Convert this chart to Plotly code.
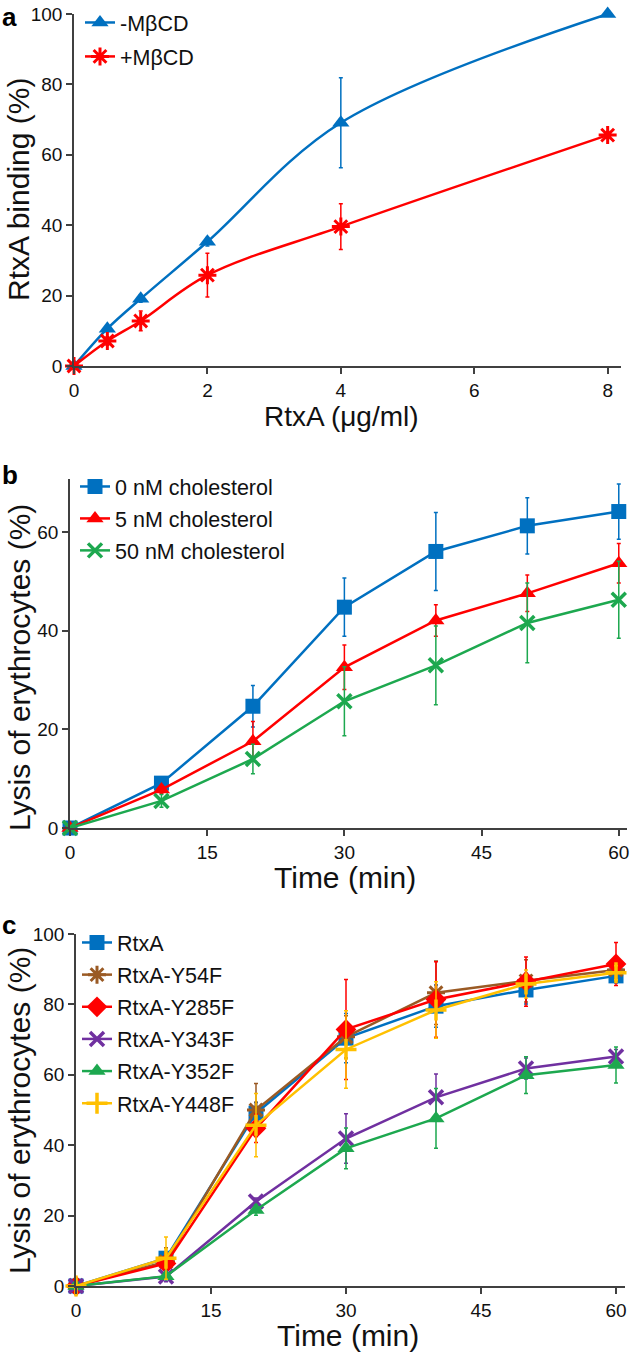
import plotly.graph_objects as go

FONT = "Arial, 'Liberation Sans', Helvetica, sans-serif"
W, H = 631, 1352

# ---------------- data ----------------
# panel a
a_x = [0, 0.5, 1, 2, 4, 8]
a_minus = [0, 10.6, 19.1, 35.3, 69.1, 100]
a_minus_err = [0, 0.8, 1.0, 1.2, 12.8, 0.5]
a_plus = [0, 7.1, 12.8, 25.8, 39.6, 65.6]
a_plus_err = [0.5, 1.2, 2.8, 6.2, 6.5, 1.0]
a_names = ["-MβCD", "+MβCD"]
a_xticks = [0, 2, 4, 6, 8]
a_yticks = [0, 20, 40, 60, 80, 100]

# panel b
b_x = [0, 10, 20, 30, 40, 50, 60]
b_chol0 = [0, 9.1, 24.7, 44.8, 56.1, 61.3, 64.2]
b_chol0_err = [0, 0.8, 4.2, 5.9, 7.9, 5.7, 5.6]
b_chol5 = [0, 7.8, 17.6, 32.6, 42.1, 47.6, 53.7]
b_chol5_err = [0, 0.8, 4.0, 4.5, 3.2, 3.7, 4.0]
b_chol50 = [0, 5.5, 14.0, 25.7, 33.0, 41.6, 46.3]
b_chol50_err = [0, 1.3, 3.0, 7.0, 8.0, 8.1, 7.8]
b_names = ["0 nM cholesterol", "5 nM cholesterol", "50 nM cholesterol"]
b_xticks = [0, 15, 30, 45, 60]
b_yticks = [0, 20, 40, 60]

# panel c
c_x = [0, 10, 20, 30, 40, 50, 60]
c_rtxa = [0, 7.9, 49.1, 70.4, 79.5, 84.1, 88.1]
c_rtxa_err = [0, 3.0, 3.0, 7.0, 6.0, 4.0, 2.0]
c_y54f = [0, 6.9, 50.0, 70.8, 83.3, 86.7, 89.8]
c_y54f_err = [0, 4.0, 7.5, 6.0, 9.0, 6.0, 3.0]
c_y285f = [0, 6.4, 44.8, 72.9, 81.4, 86.5, 91.5]
c_y285f_err = [0, 3.0, 4.0, 14.2, 10.7, 7.0, 6.1]
c_y343f = [0, 2.7, 24.0, 41.9, 53.6, 61.8, 65.2]
c_y343f_err = [0, 1.5, 1.0, 7.0, 6.6, 3.0, 2.0]
c_y352f = [0, 2.8, 21.6, 39.1, 47.6, 59.9, 62.8]
c_y352f_err = [0, 1.0, 1.5, 5.8, 8.5, 5.2, 5.1]
c_y448f = [0, 7.9, 45.7, 67.2, 78.4, 85.8, 89.0]
c_y448f_err = [0, 6.0, 9.0, 11.0, 8.0, 4.0, 2.0]
c_names = ["RtxA", "RtxA-Y54F", "RtxA-Y285F", "RtxA-Y343F", "RtxA-Y352F", "RtxA-Y448F"]
c_xticks = [0, 15, 30, 45, 60]
c_yticks = [0, 20, 40, 60, 80, 100]

# ---------------- styles ----------------
BLUE = "#0070C0"
RED = "#FF0000"
GREEN = "#1DA84F"
BROWN = "#9A5A24"
PURPLE = "#7030A0"
GOLD = "#FFC000"
AX = "#404040"


def px_x(p):
    return p / W


def px_y(p):
    return 1 - p / H


fig = go.Figure()


def add(x, y, err, name, color, symbol, size, xa, ya, legend, group,
        shape="linear", open_sym=False, mlw=0):
    marker = dict(symbol=symbol, size=size, color=color)
    if open_sym:
        marker["line"] = dict(color=color, width=mlw)
    fig.add_trace(go.Scatter(
        x=x, y=y, name=name, mode="lines+markers",
        line=dict(color=color, width=2.5, shape=shape),
        marker=marker,
        error_y=dict(type="data", array=err, visible=True, color=color,
                     thickness=1.5, width=2),
        xaxis=xa, yaxis=ya, legend=legend, legendgroup=group,
        cliponaxis=False,
    ))


# panel a
add(a_x, a_minus, a_minus_err, a_names[0], BLUE, "triangle-up", 15, "x", "y", "legend", "a1", shape="spline")
add(a_x, a_plus, a_plus_err, a_names[1], RED, "asterisk-open", 15, "x", "y", "legend", "a2",
    shape="spline", open_sym=True, mlw=3)

# panel b
add(b_x, b_chol0, b_chol0_err, b_names[0], BLUE, "square", 15, "x2", "y2", "legend2", "b1")
add(b_x, b_chol5, b_chol5_err, b_names[1], RED, "triangle-up", 15, "x2", "y2", "legend2", "b2")
add(b_x, b_chol50, b_chol50_err, b_names[2], GREEN, "x-thin-open", 14, "x2", "y2", "legend2", "b3",
    open_sym=True, mlw=3.5)

# panel c
add(c_x, c_rtxa, c_rtxa_err, c_names[0], BLUE, "square", 15, "x3", "y3", "legend3", "c1")
add(c_x, c_y54f, c_y54f_err, c_names[1], BROWN, "asterisk-open", 15, "x3", "y3", "legend3", "c2",
    open_sym=True, mlw=3)
add(c_x, c_y285f, c_y285f_err, c_names[2], RED, "diamond", 16, "x3", "y3", "legend3", "c3")
add(c_x, c_y343f, c_y343f_err, c_names[3], PURPLE, "x-thin-open", 14, "x3", "y3", "legend3", "c4",
    open_sym=True, mlw=3.5)
add(c_x, c_y352f, c_y352f_err, c_names[4], GREEN, "triangle-up", 15, "x3", "y3", "legend3", "c5")
add(c_x, c_y448f, c_y448f_err, c_names[5], GOLD, "cross-thin-open", 15, "x3", "y3", "legend3", "c6",
    open_sym=True, mlw=3.5)


def axis(domain, rng, ticks, anchor):
    return dict(domain=domain, range=rng, tickvals=ticks, anchor=anchor,
                automargin=False,
                showline=True, linecolor=AX, linewidth=1.5, showgrid=False,
                zeroline=False, ticks="outside", ticklen=6, tickwidth=1.5,
                tickcolor=AX, tickfont=dict(family=FONT, size=19, color="#111"),
                fixedrange=True)


layout = dict(
    template="none",
    width=W, height=H, margin=dict(l=0, r=0, t=0, b=0, pad=0),
    paper_bgcolor="white", plot_bgcolor="white", showlegend=True,
    font=dict(family=FONT, color="#111"),
    xaxis=axis([px_x(74), px_x(621)], [0, 8.2], a_xticks, "y"),
    yaxis=axis([px_y(366), px_y(14)], [0, 100], a_yticks, "x"),
    xaxis2=axis([px_x(70), px_x(627)], [0, 60.9], b_xticks, "y2"),
    yaxis2=axis([px_y(828), px_y(479)], [0, 70.8], b_yticks, "x2"),
    xaxis3=axis([px_x(76), px_x(625)], [0, 61], c_xticks, "y3"),
    yaxis3=axis([px_y(1286), px_y(934)], [0, 100], c_yticks, "x3"),
)

LEG = dict(xanchor="left", yanchor="top", bgcolor="rgba(0,0,0,0)", borderwidth=0,
           font=dict(family=FONT, size=21.5, color="#111"), itemwidth=30)
layout["legend"] = dict(LEG, x=px_x(80), y=px_y(2), tracegroupgap=3)
layout["legend2"] = dict(LEG, x=px_x(75), y=px_y(466), tracegroupgap=1)
layout["legend3"] = dict(LEG, x=px_x(77), y=px_y(922), tracegroupgap=1.2)

fig.update_layout(**layout)

ann = []
TF = dict(family=FONT, size=30, color="#111")
# axis titles
ann.append(dict(text="RtxA binding (%)", x=px_x(18), y=px_y(190), textangle=-90, font=TF))
ann.append(dict(text="RtxA (μg/ml)", x=px_x(341), y=px_y(416), font=dict(TF, size=28)))
ann.append(dict(text="Lysis of erythrocytes (%)", x=px_x(19), y=px_y(668), textangle=-90, font=TF))
ann.append(dict(text="Time (min)", x=px_x(345), y=px_y(877), font=TF))
ann.append(dict(text="Lysis of erythrocytes (%)", x=px_x(19), y=px_y(1111), textangle=-90, font=TF))
ann.append(dict(text="Time (min)", x=px_x(348), y=px_y(1335), font=TF))
for a in ann:
    a["yanchor"] = "middle"
# panel letters
LF = dict(family=FONT, size=26, color="#000")
ann.append(dict(text="<b>a</b>", x=0, y=1.0, xanchor="left", yanchor="top", font=LF))
ann.append(dict(text="<b>b</b>", x=0, y=px_y(475), xanchor="left", yanchor="middle", font=LF))
ann.append(dict(text="<b>c</b>", x=0, y=px_y(925), xanchor="left", yanchor="middle", font=LF))
for a in ann:
    a.setdefault("xanchor", "center")
    a.update(xref="paper", yref="paper", showarrow=False)
fig.update_layout(annotations=ann)

fig.write_html("out.html", config={"displayModeBar": False},
               post_script="document.body.style.margin='0px';document.body.style.overflow='hidden';")
